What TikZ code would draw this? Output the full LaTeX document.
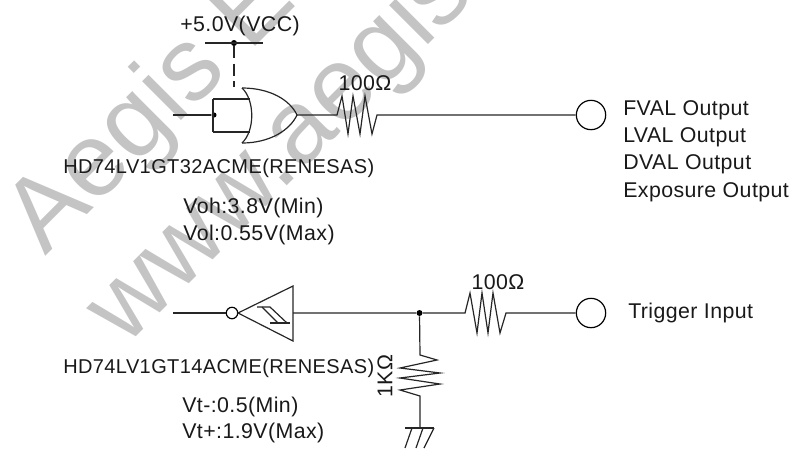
\documentclass[tikz,border=0pt]{standalone}
\usepackage{fontspec}
\setmainfont{Liberation Sans}
\newfontfamily\lblfont[LetterSpace=2]{Liberation Sans}
\newfontfamily\namefont[LetterSpace=2]{Liberation Sans}
\tikzset{
	lbl/.style={inner sep=0pt,font=\lblfont\fontsize{16pt}{18pt}\selectfont,text=black!90},
	partname/.style={inner sep=0pt,anchor=west,font=\namefont\fontsize{15pt}{18pt}\selectfont,text=black!90},
	wire/.style={line width=0.9pt,black!85},
	term/.style={circle,draw,line width=0.9pt,minimum size=22pt,inner sep=0pt},
	dotted_pt/.style={circle,fill=black,inner sep=0pt,minimum size=4.5pt},
	wmark/.style={inner sep=0pt,anchor=base west,rotate=45,text=black!23,font=\fontsize{78pt}{90pt}\selectfont}
}
\begin{document}
\begin{tikzpicture}[x=0.75pt,y=-0.75pt]
	\useasboundingbox (0,0) rectangle (795,461);
	\begin{scope}
		\clip (0,0) rectangle (795,461);
		\node[wmark] (wm_a) at (45,257) {Aegis Electronic};
		\node[wmark] (wm_b) at (125,348) {www.aegis-elec};
	\end{scope}

	% upper channel
	\path (205,43) coordinate (vcc_l);
	\path (263,43) coordinate (vcc_r);
	\path (234,87) coordinate (dash_end);
	\path (173,115) coordinate (or_in);
	\path (213,99) coordinate (or_tl);
	\path (213,132) coordinate (or_bl);
	\path (242,88) coordinate (or_top);
	\path (242,143) coordinate (or_bot);
	\path (297,115) coordinate (or_out);

	\node[dotted_pt] (vcc_dot) at (234,43) {};
	\node[dotted_pt,minimum size=3.8pt] (in_dot) at (214,115) {};
	\node[term] (fval) at (591,115) {};

	\draw[wire] (vcc_l) -- (vcc_r);
	\draw[wire,line width=2pt,dash pattern=on 9pt off 4pt] (vcc_dot) -- (dash_end);
	\draw[wire] (or_in) -- (in_dot);
	\draw[wire] (or_tl) -- (or_bl);
	\draw[wire] (or_tl) -- (250,99);
	\draw[wire] (or_bl) -- (250,132);
	\draw[wire] (or_top) .. controls (270,88) and (290,100) .. (or_out)
		.. controls (290,130) and (270,143) .. (or_bot);
	\draw[wire] (or_top) .. controls (255,100) and (255,131) .. (or_bot);
	\draw[wire] (or_out) -- (337,115) -- (342,96) -- (348,134) -- (353,96) -- (360,134) -- (365,96) -- (372,134) -- (377,115) -- (fval);

	\node[lbl] (vcc_lbl) at (240,26) {+5.0V(VCC)};
	\node[lbl] (r1_lbl) at (365,83) {100Ω};
	\node[partname] (or_name) at (63,168) {HD74LV1GT32ACME(RENESAS)};
	\node[lbl,anchor=west] (voh) at (183,208) {Voh:3.8V(Min)};
	\node[lbl,anchor=west] (vol) at (183,235) {Vol:0.55V(Max)};
	\node[lbl,anchor=west] (fval_lbl) at (623,110) {FVAL Output};
	\node[lbl,anchor=west] (lval_lbl) at (623,137) {LVAL Output};
	\node[lbl,anchor=west] (dval_lbl) at (623,164) {DVAL Output};
	\node[lbl,anchor=west] (exp_lbl) at (623,192) {Exposure Output};

	% lower channel
	\path (173,313) coordinate (inv_in);
	\path (293,286) coordinate (inv_t);
	\path (293,341) coordinate (inv_b);
	\path (238,313) coordinate (inv_tip);
	\path (293,313) coordinate (inv_out);
	\path (405,428) coordinate (gnd_l);
	\path (434,428) coordinate (gnd_r);
	\path (420,428) coordinate (gnd_t);

	\node[circle,draw,line width=0.9pt,minimum size=8.6pt,inner sep=0pt] (bubble) at (232,313) {};
	\node[dotted_pt] (j_dot) at (419.5,313) {};
	\node[term] (trig) at (591,313) {};

	\draw[wire] (inv_in) -- (bubble);
	\draw[wire] (inv_tip) -- (inv_t) -- (inv_b) -- cycle;
	\draw[wire] (257,307) -- (270,307) -- (287,323);
	\draw[wire] (262,307) -- (278,323);
	\draw[wire] (270,323) -- (290,323);
	\draw[wire] (inv_out) -- (j_dot) -- (465,313) -- (470,293) -- (477,333) -- (482,293) -- (488,333) -- (493,293) -- (500,333) -- (506,313) -- (trig);
	\draw[wire] (j_dot) -- (420,355) -- (437,360) -- (400,368) -- (440,373) -- (400,378) -- (440,384) -- (400,390) -- (420,396) -- (gnd_t);
	\draw[wire] (gnd_l) -- (gnd_r);
	\draw[wire] (412,428) -- (405,448);
	\draw[wire] (423,428) -- (416,448);
	\draw[wire] (434,428) -- (424,448);

	\node[lbl] (r2_lbl) at (498,282) {100Ω};
	\node[partname] (inv_name) at (63,368) {HD74LV1GT14ACME(RENESAS)};
	\node[lbl,rotate=90] (r3_lbl) at (385,376) {1KΩ};
	\node[lbl,anchor=west] (vtm) at (182,407) {Vt-:0.5(Min)};
	\node[lbl,anchor=west] (vtp) at (182,433) {Vt+:1.9V(Max)};
	\node[lbl,anchor=west] (trig_lbl) at (628,313) {Trigger Input};
\end{tikzpicture}
\end{document}
